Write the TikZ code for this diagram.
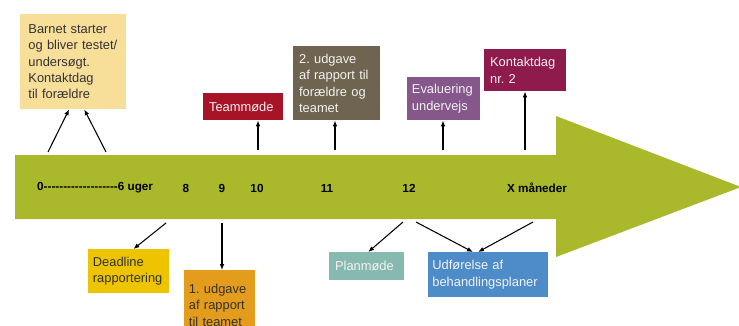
\documentclass[tikz,border=0pt]{standalone}
\usepackage{fontspec}
\setmainfont{Liberation Sans}[Ligatures=TeXOff]
\frenchspacing
\usetikzlibrary{arrows.meta}

\definecolor{arrowgreen}{HTML}{AAB92B}
\definecolor{paleyellow}{HTML}{F7DF99}
\definecolor{deadyellow}{HTML}{EEC300}
\definecolor{rapportorange}{HTML}{E39C1B}
\definecolor{teamred}{HTML}{A81427}
\definecolor{rapportbrown}{HTML}{6F6450}
\definecolor{evalpurple}{HTML}{85578A}
\definecolor{kontaktmaroon}{HTML}{8E1B4C}
\definecolor{planteal}{HTML}{86BAB1}
\definecolor{udforblue}{HTML}{4D8CC8}

\tikzset{
  tbox/.style={anchor=north west, inner xsep=5pt, inner ysep=2pt, align=left,
    font=\fontsize{11}{14}\selectfont},
  darktext/.style={text=black!80},
  lighttext/.style={text=white!95!black},
  tick/.style={font=\bfseries\fontsize{10}{12}\selectfont, inner sep=0pt},
  conn/.style={-{Latex[length=5pt,width=4pt]}, line width=0.9pt}
}

\begin{document}
\begin{tikzpicture}[x=0.03cm, y=-0.03cm]
        \clip (0,0) rectangle (739,325);

        % time arrow
        \fill[arrowgreen] (15,155) -- (556,155) -- (556,116) -- (741,187)
            -- (556,257) -- (556,219) -- (15,219) -- cycle;
        \node[tick, anchor=west] (t0) at (37,188) {0-------------------6 uger};
        \node[tick] (t8) at (186,188) {8};
        \node[tick] (t9) at (222,188) {9};
        \node[tick] (t10) at (257,188) {10};
        \node[tick] (t11) at (327,188) {11};
        \node[tick] (t12) at (409,188) {12};
        \node[tick] (tx) at (537,188) {X måneder};

        % boxes above the arrow
        \node[tbox, darktext, fill=paleyellow, inner xsep=7pt, text width=76.5pt, minimum height=81pt]
            (start) at (20,14) {Barnet starter\\og bliver testet/\\undersøgt.\\Kontaktdag\\til forældre};
        \node[tbox, lighttext, fill=teamred, text width=58.3pt, minimum height=23pt]
            (team) at (203,93) {Teammøde};
        \node[tbox, lighttext, fill=rapportbrown, text width=64.3pt, minimum height=63.2pt]
            (rap2) at (293,46) {2. udgave\\af rapport til\\forældre og\\teamet};
        \node[tbox, lighttext, fill=evalpurple, inner xsep=4pt, text width=54.3pt, minimum height=36.7pt]
            (eval) at (407,77) {Evaluering\\undervejs};
        \node[tbox, lighttext, fill=kontaktmaroon, text width=60pt, minimum height=35.9pt]
            (kontakt) at (484,49) {Kontaktdag\\nr. 2};

        % boxes below the arrow
        \node[tbox, darktext, fill=deadyellow, inner xsep=4pt, text width=61.1pt, minimum height=37.6pt]
            (dead) at (88,249) {Deadline\\rapportering};
        \node[tbox, darktext, fill=rapportorange, inner xsep=4pt, text width=52.6pt, minimum height=59.8pt]
            (rap1) at (184,270) {1. udgave\\af rapport\\til teamet};
        \node[tbox, lighttext, fill=planteal, text width=54pt, minimum height=23.9pt]
            (plan) at (329,252) {Planmøde};
        \node[tbox, lighttext, fill=udforblue, inner xsep=3.5pt, text width=95.4pt, minimum height=38.4pt]
            (ufor) at (428,252) {Udførelse af\\behandlingsplaner};

        % connectors up
        \coordinate (u1) at (48,152);
        \coordinate (u2) at (106,152);
        \coordinate (u3) at (258,150);
        \coordinate (u4) at (335,150);
        \coordinate (u5) at (443,150);
        \coordinate (u6) at (525,150);
        \draw[conn] (u1) -- (start.-95);
        \draw[conn] (u2) -- (start.-77);
        \draw[conn] (u3) -- (u3 |- team.south);
        \draw[conn] (u4) -- (u4 |- rap2.south);
        \draw[conn] (u5) -- (u5 |- eval.south);
        \draw[conn] (u6) -- (u6 |- kontakt.south);

        % connectors down
        \coordinate (d1) at (166,223);
        \coordinate (d2) at (222,223);
        \coordinate (d3) at (403,222);
        \coordinate (d4) at (416,222);
        \coordinate (d5) at (533,222);
        \draw[conn] (d1) -- (dead.78);
        \draw[conn] (d2) -- (d2 |- rap1.north);
        \draw[conn] (d3) -- (plan.84);
        \draw[conn] (d4) -- (ufor.124);
        \draw[conn] (d5) -- (ufor.114);
    \end{tikzpicture}
\end{document}
